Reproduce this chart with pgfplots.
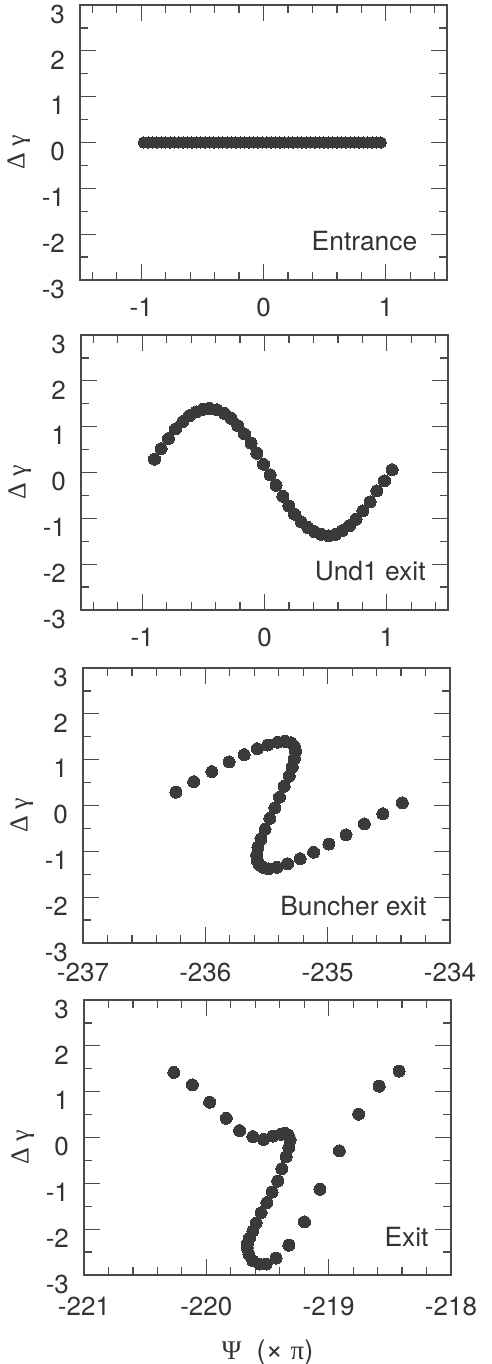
\documentclass[border=0pt]{standalone}
\usepackage{fontspec}
\setmainfont{TeX Gyre Heros}
\newfontfamily\greek{Liberation Serif}
\usepackage{pgfplots}
\pgfplotsset{compat=1.18}
\definecolor{dotgray}{HTML}{3A3A3A}
\definecolor{inkgray}{HTML}{333333}
\definecolor{framegray}{HTML}{4A4A4A}

\pgfplotsset{
 panel/.style={scale only axis,width=183.5pt,height=137.5pt,
  anchor=north west,ymin=-3,ymax=3,
  ytick={-3,-2,-1,0,1,2,3},yticklabels={-3,-2,-1,0,1,2,3},
  minor ytick={-2.5,-1.5,-0.5,0.5,1.5,2.5},
  tick align=inside,major tick length=8pt,minor tick length=4pt,
  axis line style={framegray,line width=0.7pt},
  every tick/.style={framegray,line width=0.6pt},
  tick label style={inkgray,font=\fontsize{13}{15}\selectfont},
  yticklabel style={xshift=-4pt,yshift=-4.5pt},
  xticklabel style={yshift=-5.5pt},
  ylabel={\greek Δ γ},
  ylabel style={inkgray,font=\fontsize{13}{15}\selectfont,yshift=-1pt,xshift=-5pt},
  clip=false},
 dots/.style={only marks,mark=*,mark size=3pt,
  mark options={fill=dotgray,draw=dotgray,line width=0pt}}
}
\tikzset{tag/.style={inkgray,anchor=base east,inner sep=0pt,font=\fontsize{13.2}{15}\selectfont}}

\begin{document}
\begin{tikzpicture}
\useasboundingbox (0,0) rectangle (246pt,-682pt);

% entrance
\begin{axis}[panel,at={(40pt,-2.5pt)},xmin=-1.5,xmax=1.5,
 xtick={-1,0,1},xticklabels={-1,0,1},
 minor xtick={-1.4,-1.2,-0.8,-0.6,-0.4,-0.2,0.2,0.4,0.6,0.8,1.2,1.4}]
\addplot[dots,mark size=2.8pt] coordinates {
(-0.980,0)(-0.944,0)(-0.908,0)(-0.872,0)(-0.836,0)(-0.800,0)(-0.764,0)(-0.729,0)(-0.693,0)
(-0.657,0)(-0.621,0)(-0.585,0)(-0.549,0)(-0.513,0)(-0.477,0)(-0.441,0)(-0.405,0)(-0.369,0)
(-0.333,0)(-0.297,0)(-0.261,0)(-0.226,0)(-0.190,0)(-0.154,0)(-0.118,0)(-0.082,0)(-0.046,0)
(-0.010,0)(0.026,0)(0.062,0)(0.098,0)(0.134,0)(0.170,0)(0.206,0)(0.241,0)(0.277,0)
(0.313,0)(0.349,0)(0.385,0)(0.421,0)(0.457,0)(0.493,0)(0.529,0)(0.565,0)(0.601,0)
(0.637,0)(0.673,0)(0.709,0)(0.744,0)(0.780,0)(0.816,0)(0.852,0)(0.888,0)(0.924,0)(0.960,0)};
\node[tag] at (axis cs:1.26,-2.35) {Entrance};
\end{axis}

% und1 exit
\begin{axis}[panel,at={(40.5pt,-167.5pt)},xmin=-1.5,xmax=1.5,
 xtick={-1,0,1},xticklabels={-1,0,1},
 minor xtick={-1.4,-1.2,-0.8,-0.6,-0.4,-0.2,0.2,0.4,0.6,0.8,1.2,1.4}]
\addplot[dots] coordinates {
(-0.899,0.29)(-0.845,0.52)(-0.785,0.74)(-0.728,0.95)(-0.668,1.11)(-0.613,1.24)
(-0.559,1.32)(-0.504,1.38)(-0.450,1.40)(-0.390,1.37)(-0.327,1.29)(-0.272,1.18)
(-0.218,1.02)(-0.163,0.84)(-0.109,0.64)(-0.063,0.42)(-0.008,0.18)(0.046,-0.05)
(0.095,-0.28)(0.150,-0.52)(0.199,-0.73)(0.245,-0.91)(0.300,-1.08)(0.354,-1.20)
(0.409,-1.29)(0.463,-1.35)(0.523,-1.38)(0.580,-1.35)(0.635,-1.27)(0.695,-1.16)
(0.749,-1.02)(0.804,-0.84)(0.864,-0.64)(0.918,-0.40)(0.981,-0.18)(1.044,0.06)};
\node[tag] at (axis cs:1.32,-2.35) {Und1 exit};
\end{axis}

% buncher exit
\begin{axis}[panel,at={(41.5pt,-334pt)},xmin=-237,xmax=-234,
 xtick={-237,-236,-235,-234},xticklabels={-237,-236,-235,-234},
 minor x tick num=4,xticklabel style={yshift=-1pt}]
\addplot[dots] coordinates {
(-236.241,0.29)(-236.095,0.52)(-235.947,0.74)(-235.806,0.95)(-235.682,1.11)(-235.575,1.24)
(-235.489,1.32)(-235.410,1.38)(-235.348,1.40)(-235.300,1.37)(-235.272,1.29)(-235.263,1.18)
(-235.272,1.02)(-235.289,0.84)(-235.314,0.64)(-235.355,0.42)(-235.394,0.18)(-235.432,-0.05)
(-235.473,-0.28)(-235.512,-0.52)(-235.545,-0.73)(-235.570,-0.91)(-235.580,-1.08)(-235.575,-1.20)
(-235.558,-1.29)(-235.528,-1.35)(-235.482,-1.38)(-235.415,-1.35)(-235.328,-1.27)(-235.225,-1.16)
(-235.115,-1.02)(-234.990,-0.84)(-234.850,-0.64)(-234.700,-0.40)(-234.549,-0.18)(-234.390,0.06)};
\node[tag] at (axis cs:-234.19,-2.39) {Buncher exit};
\end{axis}

% exit
\begin{axis}[panel,at={(42pt,-500pt)},xmin=-221,xmax=-218,
 xtick={-221,-220,-219,-218},xticklabels={-221,-220,-219,-218},
 minor x tick num=4,xticklabel style={yshift=-2pt},
 xlabel={{\greek Ψ}\ \ ({\fontsize{15}{15}\selectfont ×}\ {\greek π})},
 xlabel style={inkgray,font=\fontsize{13.5}{15}\selectfont,yshift=-5pt}]
\addplot[dots] coordinates {
(-220.266,1.42)(-220.114,1.15)(-219.973,0.77)(-219.837,0.42)(-219.728,0.15)(-219.620,0.02)
(-219.533,-0.04)(-219.457,0.03)(-219.389,0.07)(-219.356,0.09)(-219.332,0.06)(-219.315,-0.05)
(-219.326,-0.22)(-219.348,-0.42)(-219.383,-0.68)(-219.416,-0.95)(-219.462,-1.19)(-219.505,-1.42)
(-219.552,-1.64)(-219.592,-1.86)(-219.620,-2.04)(-219.647,-2.19)(-219.663,-2.30)(-219.666,-2.41)
(-219.652,-2.55)(-219.620,-2.69)(-219.565,-2.76)(-219.511,-2.76)(-219.429,-2.63)(-219.326,-2.35)
(-219.198,-1.84)(-219.071,-1.13)(-218.913,-0.29)(-218.755,0.51)(-218.587,1.12)(-218.424,1.45)};
\node[tag] at (axis cs:-218.18,-2.37) {Exit};
\end{axis}
\end{tikzpicture}
\end{document}
